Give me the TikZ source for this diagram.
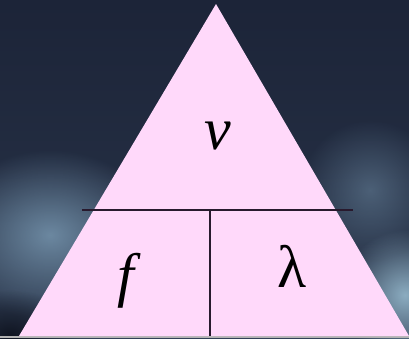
\documentclass[tikz,border=0pt]{standalone}
\usepackage{fontspec}
\setmainfont{Liberation Serif}
\usetikzlibrary{fadings}
\tikzfading[name=softblob, inner color=transparent!0, outer color=transparent!100]
\definecolor{pinkfill}{RGB}{255,217,250}
\definecolor{bgtop}{RGB}{28,36,56}
\definecolor{bgmid}{RGB}{50,64,86}
\definecolor{bglight}{RGB}{115,145,170}
\definecolor{bgbright}{RGB}{150,185,205}
\definecolor{bgdark}{RGB}{12,16,28}
\definecolor{linec}{RGB}{40,25,45}
\begin{document}
\begin{tikzpicture}[x=1pt,y=-1pt,
  sym/.style={font=\fontsize{60}{60}\selectfont\itshape, text=black, inner sep=0pt},
  symup/.style={font=\fontsize{60}{60}\selectfont, text=black, inner sep=0pt},
  divider/.style={draw=linec, line width=1.6pt}]
\useasboundingbox (0,0) rectangle (409,338);
% background
\shade[top color=bgtop, bottom color=bgmid, middle color=bgtop!70!bgmid] (0,0) rectangle (409,338);
\fill[bglight, opacity=0.9, path fading=softblob] (-60,150) rectangle (160,320);
\fill[bglight, opacity=0.5, path fading=softblob] (300,120) rectangle (440,260);
\fill[bgbright, opacity=0.9, path fading=softblob] (340,230) rectangle (470,360);
\fill[bgdark, opacity=0.9, path fading=softblob] (-60,290) rectangle (80,380);
\fill[gray!60] (0,336) rectangle (409,338);
% triangle
\coordinate (apex) at (216,4);
\coordinate (bl) at (19,336);
\coordinate (br) at (409,336);
\fill[pinkfill] (apex) -- (br) -- (bl) -- cycle;
% dividers
\coordinate (hl) at (82,210);
\coordinate (hr) at (353,210);
\coordinate (vt) at (210,210);
\coordinate (vb) at (210,336);
\draw[divider] (hl) -- (hr);
\draw[divider] (vt) -- (vb);
% labels
\node[sym] (v) at (218,136) {v};
\node[sym] (f) at (126,281) {f};
\node[symup] (lam) at (292,266) {λ};
\end{tikzpicture}
\end{document}
